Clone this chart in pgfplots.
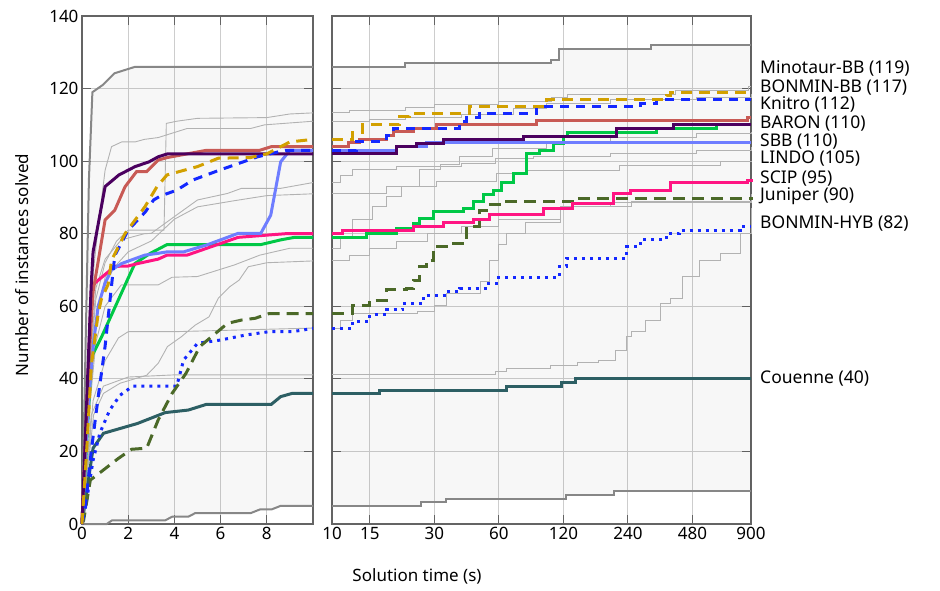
\documentclass[border=0pt]{standalone}
\usepackage{pgfplots}
\pgfplotsset{compat=1.18}
\usepackage{fontspec}
\setmainfont{Noto Sans}
\definecolor{cGold}{RGB}{210,160,0}
\definecolor{cBlue}{RGB}{20,40,255}
\definecolor{cRed}{RGB}{200,90,85}
\definecolor{cPurple}{RGB}{75,0,95}
\definecolor{cGreen}{RGB}{0,200,70}
\definecolor{cLBlue}{RGB}{110,125,255}
\definecolor{cPink}{RGB}{255,20,130}
\definecolor{cOlive}{RGB}{75,105,40}
\definecolor{cTeal}{RGB}{45,95,100}
\definecolor{cGray}{RGB}{135,135,135}
\definecolor{cThin}{RGB}{178,178,178}
\definecolor{cGrid}{RGB}{205,205,205}
\definecolor{cAxis}{RGB}{100,100,100}
\pgfplotsset{
  panel/.style={scale only axis, height=508pt, ymin=0, ymax=140,
    anchor=south west, grid=major,
    grid style={cGrid, line width=0.9pt},
    axis line style={cAxis, line width=1.2pt},
    tick align=inside, major tick length=9pt,
    tick style={cAxis, line width=1pt},
    ticklabel style={font=\fontsize{17}{20}\selectfont},
    /pgf/number format/assume math mode=true,
    ytick={0,20,...,140}, clip=false},
  thinline/.style={cThin, line width=0.9pt},
  boundline/.style={cGray, line width=2pt},
  solver/.style={line width=3pt},
  shade/.style={draw=none, fill=black, fill opacity=0.03},
}
\begin{document}
\begin{tikzpicture}
\useasboundingbox (0pt,0pt) rectangle (940pt,590pt);
% ---------------- left panel ----------------
\begin{axis}[panel, at={(82pt,66pt)}, width=231pt, xmin=0, xmax=10,
  xtick={0,2,4,6,8}]
\addplot[shade, sharp plot] coordinates {(0,0)(0.3,95)(0.45,119)(0.9,121)(1.4,124.2)(2.3,126)(10,126)(10,5)(8.6,5)(8.2,4)(7.7,4)(7.3,3)(4.9,3)(4.6,2)(3.9,2)(3.6,1)(1.3,1)(1.07,0)(0,0)} -- cycle;
\addplot[boundline] coordinates {(0,0)(0.3,95)(0.45,119)(0.9,121)(1.4,124.2)(2.3,126)(10,126)};
\addplot[boundline] coordinates {(0,0)(1.07,0)(1.3,1)(3.6,1)(3.9,2)(4.6,2)(4.9,3)(7.3,3)(7.7,4)(8.2,4)(8.6,5)(10,5)};
% thin gray
\addplot[thinline] coordinates {(0,0)(0.3,40)(0.6,62)(1,72)(1.5,78)(2,81)(3.55,81)(3.65,110.4)(4.1,111)(5,111.8)(8,112)(9,113)(10,113.3)};
\addplot[thinline] coordinates {(0,0)(0.3,50)(0.5,70)(0.7,82)(1,97.5)(1.28,104)(1.72,105.3)(2.3,105.3)(2.7,106)(3.3,106.5)(4.55,109)(7.3,109)(7.9,110)(10,111)};
\addplot[thinline] coordinates {(0,0)(0.3,40)(0.6,65)(1,73)(1.7,78.3)(2.7,80)(3,80.1)(3.8,83.8)(5,89.3)(6.3,91.1)(6.9,92.5)(8.6,92.5)(10,94.1)};
\addplot[thinline] coordinates {(0,0)(0.3,35)(0.6,55)(1,68)(2,75)(3,78)(4,84)(5,87.4)(6.5,89)(8,90.5)(10,91)};
\addplot[thinline] coordinates {(0,0)(0.3,30)(0.6,50)(1,60)(1.7,65.9)(3.3,65.9)(3.9,68)(5,68.2)(6.6,71.4)(7.7,74.1)(9,76)(10,76)};
\addplot[thinline] coordinates {(0,0)(0.5,30)(0.93,36)(1.65,38.8)(2.8,41)(3.3,44.3)(3.7,48.9)(4.3,51.6)(4.9,54.8)(5.5,57.1)(5.9,62.2)(6.4,65.4)(6.8,67.2)(7.2,70.9)(8,72)(10,72.5)};
\addplot[thinline] coordinates {(0,0)(0.3,20)(0.48,34)(1,45)(1.58,51.3)(2,53)(4,53)(10,54)};
\addplot[thinline] coordinates {(0,0)(0.4,30)(0.93,38)(2,40.5)(4,41.1)(10,41.1)};
% solvers
\addplot[solver, cTeal] coordinates {(0,0)(0.48,20.9)(0.93,25)(2.4,27.7)(3.6,30.7)(4.6,31.4)(5.4,33)(8.2,33)(8.6,35.1)(9.1,36)(10,36)};
\addplot[solver, cBlue, dash pattern=on 3pt off 5pt] coordinates {(0,0)(0.11,3)(0.48,17.6)(0.77,25)(1.2,31.4)(1.65,35.5)(2.2,38)(4.1,38)(4.4,45.2)(5.0,49.8)(6.0,50.7)(7.1,52.1)(8.1,53)(9.1,53)(10,53.9)};
\addplot[solver, cOlive, dash pattern=on 12pt off 7pt] coordinates {(0,0)(0.07,1)(0.36,12.1)(0.93,14.9)(1.58,18.1)(2.15,20.6)(2.8,20.9)(3.3,28.7)(3.9,36)(4.5,41.5)(5.1,48.9)(5.7,52.1)(6.3,55.3)(6.9,56.2)(7.5,56.7)(8.1,58)(10,58)};
\addplot[solver, cGreen] coordinates {(0,0)(0.2,22)(0.41,46)(0.85,51.6)(1.96,67.2)(2.29,71.8)(2.96,74.6)(3.68,77)(7.74,77)(8.6,78.3)(9.2,79)(10,79)};
\addplot[solver, cPink] coordinates {(0,0)(0.2,30)(0.4,64)(0.48,66)(1.42,71)(2,71.1)(2.43,71.8)(3.3,73)(3.68,74.1)(4.55,74.1)(6.76,79)(8.8,80)(10,80)};
\addplot[solver, cLBlue] coordinates {(0,0)(0.3,35)(0.5,50)(0.7,60)(0.99,66.3)(1.28,70)(1.72,71.8)(2.72,74.1)(3.3,74.6)(3.68,75)(4.4,75)(5.4,76.9)(6.76,80.1)(7.74,80.1)(8.17,85.1)(8.6,99.8)(9.0,103)(10,103)};
\addplot[solver, cRed] coordinates {(0,0)(0.3,45)(0.48,64)(1,83.8)(1.42,86.5)(1.86,92.9)(2.36,97.1)(2.8,97.1)(3.3,100.3)(3.7,101)(5.4,103)(7.7,103)(8.2,104)(10,104)};
\addplot[solver, cPurple] coordinates {(0,0)(0.4,66)(0.48,75)(1,93)(1.6,96.2)(2.3,98.5)(2.9,99.8)(3.3,101.2)(3.7,102)(10,102)};
\addplot[solver, cBlue, dash pattern=on 9pt off 7pt] coordinates {(0,0)(0.15,5)(0.4,20)(0.7,35)(1.0,49)(1.25,64)(1.42,74)(2.0,81)(2.74,86)(3.1,89.3)(3.4,90.4)(4.1,92)(4.8,94.8)(5.9,97.4)(6.8,99.4)(7.6,101.2)(8.8,103)(10,103)};
\addplot[solver, cGold, dash pattern=on 11pt off 7pt] coordinates {(0,0)(0.2,20)(0.41,44)(0.7,58)(0.84,62)(1.13,66)(1.28,72.7)(1.86,80)(2.72,87.4)(3.25,93)(3.68,96.2)(5,98.5)(5.9,100.8)(7.3,101)(8,102)(9,105.3)(10,106)};
\end{axis}
% ---------------- right panel ----------------
\begin{axis}[panel, at={(332pt,66pt)}, width=419pt, xmode=log, xmin=10, xmax=900,
  xtick={10,15,30,60,120,240,480,900}, xticklabels={10,15,30,60,120,240,480,900},
  minor xtick={}, yticklabels={}, const plot]
\addplot[shade, sharp plot] coordinates {(10,126)(22,126)(22,127)(105,127)(105,128)(115,128)(115,131)(306,131)(306,132)(900,132)(900,9)(206,9)(206,8)(123,8)(123,7)(34,7)(34,6)(26,6)(26,5)(10,5)} -- cycle;
\addplot[boundline] coordinates {(10,126)(22,127)(105,128)(115,131)(306,132)(900,132)};
\addplot[boundline] coordinates {(10,5)(26,6)(34,7)(123,8)(206,9)(900,9)};
% thin gray
\addplot[thinline] coordinates {(10,113.3)(12,114)(22,114.8)(30,115.5)(60,116.5)(105,117.5)(125,118.5)(400,119.5)(880,120.5)(900,120.5)};
\addplot[thinline] coordinates {(10,111)(15,111.5)(22,112)(40,113)(70,114.5)(100,116)(200,117)(500,117.5)(900,118.5)};
\addplot[thinline] coordinates {(10,94.1)(11,96)(12.5,97.6)(20,98.5)(40,99.5)(58,100.8)(87,101.2)(200,102)(500,103)(900,104)};
\addplot[thinline] coordinates {(10,91)(17.9,93)(30.7,94.3)(58.6,96.6)(80,97.5)(220,98.9)(650,99.8)(900,100)};
\addplot[thinline] coordinates {(10,76)(11,79)(12.5,83.8)(15.5,87.5)(18,90.2)(21,93)(25.6,97.6)(32,99)(39.5,101.2)(56,103.5)(100,105)(200,106.5)(500,107.5)(900,108)};
\addplot[thinline] coordinates {(10,72.5)(12,74)(15,76)(20,78)(28,80)(40,82)(60,84)(116,87.4)(250,89)(900,91)};
\addplot[thinline] coordinates {(10,54)(11,56)(12.5,58)(25,58.5)(30,60.2)(34,63.6)(49,66.8)(54.5,72.7)(60,77)(65,80.1)(80,83)(116,87.4)(200,88.5)(900,89)};
\addplot[thinline] coordinates {(10,41.1)(56,41.1)(58,42)(65,42.9)(104,43.8)(140,44.5)(175,45.2)(210,47.9)(235,51.6)(250,53)(290,56.2)(340,60.8)(380,62.2)(430,68.1)(520,72.7)(650,74.6)(800,80.1)(900,87)};
% solvers
\addplot[solver, cTeal] coordinates {(10,36)(16.7,36.9)(65,37.8)(117,38.9)(136,40)(900,40)};
\addplot[solver, cBlue, dash pattern=on 3pt off 5pt] coordinates {(10,53.9)(12.5,55.7)(15,57.6)(17.9,59)(21.4,60.8)(26.6,63.1)(34.2,64)(39.5,65)(52.7,66.3)(58.6,68)(115,70.9)(124,73.2)(237,76.4)(274,78.3)(363,80.1)(418,81)(800,82)(900,82)};
\addplot[solver, cOlive, dash pattern=on 12pt off 7pt] coordinates {(10,58)(12.5,60.3)(15,61.7)(17.9,64.7)(22.3,65)(23.9,67.2)(25.7,70.9)(27.6,72.7)(29.7,76.4)(36.7,77.3)(42.4,81.9)(48.9,86.5)(52.7,88.1)(65,88.8)(138,89.7)(900,90)};
\addplot[solver, cGreen] coordinates {(10,79)(14.5,80.1)(19.9,81.5)(23.9,82.9)(25.7,84.2)(29.7,86.1)(41,87)(45.5,88.8)(50.7,90.7)(56.4,92)(62,94)(70,96.6)(80.8,102.1)(93.3,103)(107.8,104.9)(120,106.7)(126,107.8)(327,109)(620,110)};
\addplot[solver, cPink] coordinates {(10,80)(11.2,81)(23.9,81.9)(33,83)(45.5,84)(54.5,85.2)(96.8,87)(133,88.4)(206,91.1)(247,92)(379,94)(866,94.8)(900,95)};
\addplot[solver, cLBlue] coordinates {(10,103)(19.9,104)(27.6,105)(900,105)};
\addplot[solver, cRed] coordinates {(10,104)(12,105.1)(13.5,106)(17.9,107.2)(19.3,108.1)(23.9,109)(30.7,110)(90,111.1)(866,112)(900,112)};
\addplot[solver, cPurple] coordinates {(10,102)(19.9,104)(24.8,104.9)(33,106)(78,106.9)(213,109)(391,110)(900,110)};
\addplot[solver, cBlue, dash pattern=on 9pt off 7pt] coordinates {(10,103)(13,105.4)(17.9,107.2)(19.3,109)(39.5,110.9)(42.4,112)(48.9,113.2)(90,115)(274,116)(327,117)(900,117)};
\addplot[solver, cGold, dash pattern=on 11pt off 7pt] coordinates {(10,106)(12.5,108)(13.9,110.2)(20.7,112.2)(23.1,113.2)(43.9,115)(100,117)(363,118.2)(380,119)(900,119)};
% labels
\node[anchor=west, inner sep=0pt, xshift=9pt, font=\fontsize{17.5}{20}\selectfont] at (axis cs:900,125.6) {Minotaur-BB (119)};
\node[anchor=west, inner sep=0pt, xshift=9pt, font=\fontsize{17.5}{20}\selectfont] at (axis cs:900,120.4) {BONMIN-BB (117)};
\node[anchor=west, inner sep=0pt, xshift=9pt, font=\fontsize{17.5}{20}\selectfont] at (axis cs:900,115.5) {Knitro (112)};
\node[anchor=west, inner sep=0pt, xshift=9pt, font=\fontsize{17.5}{20}\selectfont] at (axis cs:900,110.5) {BARON (110)};
\node[anchor=west, inner sep=0pt, xshift=9pt, font=\fontsize{17.5}{20}\selectfont] at (axis cs:900,105.5) {SBB (110)};
\node[anchor=west, inner sep=0pt, xshift=9pt, font=\fontsize{17.5}{20}\selectfont] at (axis cs:900,100.6) {LINDO (105)};
\node[anchor=west, inner sep=0pt, xshift=9pt, font=\fontsize{17.5}{20}\selectfont] at (axis cs:900,95.3) {SCIP (95)};
\node[anchor=west, inner sep=0pt, xshift=9pt, font=\fontsize{17.5}{20}\selectfont] at (axis cs:900,90.4) {Juniper (90)};
\node[anchor=west, inner sep=0pt, xshift=9pt, font=\fontsize{17.5}{20}\selectfont] at (axis cs:900,82.7) {BONMIN-HYB (82)};
\node[anchor=west, inner sep=0pt, xshift=9pt, font=\fontsize{17.5}{20}\selectfont] at (axis cs:900,40.2) {Couenne (40)};
\end{axis}
\node[font=\fontsize{17}{20}\selectfont] at (417pt,14pt) {Solution time (s)};
\node[rotate=90, font=\fontsize{17}{20}\selectfont] at (22pt,325pt) {Number of instances solved};
\end{tikzpicture}
\end{document}
